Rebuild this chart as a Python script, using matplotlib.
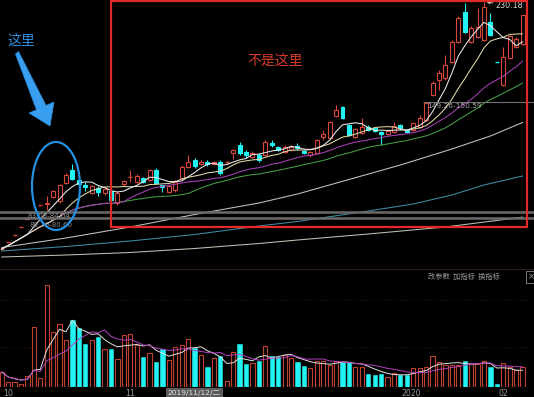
import numpy as np
import pandas as pd
import matplotlib
matplotlib.use("Agg")
import matplotlib.pyplot as plt
from matplotlib.patches import Rectangle, Ellipse, Polygon
from matplotlib.transforms import blended_transform_factory

plt.rcParams['font.family'] = ['DejaVu Sans', 'Noto Sans CJK SC']

# ---------------- data ----------------
opens = [57.28, 62.18, 67.43, 72.68, 78.28, 83.53, 88.43, 88.78, 93.68, 90.88,
         103.48, 112.58, 105.58, 102.08, 96.48, 99.98, 96.48, 97.88, 89.48, 102.43,
         107.33, 104.18, 106.98, 105.58, 112.58, 101.73, 97.18, 98.58, 106.98, 114.68,
         119.58, 116.78, 118.18, 116.78, 118.18, 118.18, 124.48, 130.08, 125.53, 121.68,
         123.08, 123.08, 131.48, 128.68, 125.18, 126.58, 129.03, 125.88, 123.08, 124.48,
         135.68, 134.98, 150.38, 156.68, 144.08, 135.68, 138.48, 142.68, 141.98, 139.18,
         137.78, 139.18, 144.08, 140.58, 140.58, 142.68, 147.58, 165.08, 175.58, 176.98,
         188.18, 202.18, 223.18, 202.18, 205.68, 203.58, 216.18, 188.18, 172.08, 190.98,
         198.68, 200.78]
highs = [57.28, 62.18, 67.43, 72.68, 78.28, 83.53, 88.43, 94.38, 98.58, 102.78,
         110.48, 116.78, 106.28, 104.18, 102.08, 101.38, 100.68, 99.98, 97.88, 105.58,
         112.58, 109.78, 107.68, 113.28, 113.98, 102.08, 102.08, 105.58, 116.08, 123.08,
         120.98, 119.58, 119.58, 118.88, 119.58, 118.88, 127.28, 132.18, 126.58, 125.88,
         124.48, 133.58, 133.58, 129.38, 130.08, 130.08, 131.48, 126.58, 125.88, 134.28,
         140.58, 146.88, 158.08, 157.38, 144.78, 141.98, 148.98, 144.08, 142.68, 139.88,
         140.58, 146.18, 144.78, 141.28, 146.18, 151.08, 160.18, 174.88, 182.58, 193.08,
         203.58, 220.38, 229.48, 213.38, 225.98, 230.18, 222.48, 188.18, 198.68, 207.08,
         205.68, 221.08]
lows = [57.28, 62.18, 67.43, 72.68, 78.28, 83.53, 88.43, 84.58, 92.98, 89.48,
        102.78, 105.58, 101.38, 97.88, 95.78, 94.38, 95.08, 90.18, 88.08, 101.38,
        104.18, 103.48, 103.48, 104.88, 102.78, 97.18, 96.48, 97.18, 106.28, 113.98,
        113.98, 116.08, 115.38, 116.08, 109.08, 117.83, 120.28, 123.08, 120.98, 120.98,
        118.18, 122.38, 128.68, 125.88, 124.48, 125.88, 126.58, 123.78, 121.68, 123.78,
        133.58, 134.28, 149.68, 148.28, 136.38, 134.98, 137.78, 139.88, 139.18, 130.08,
        137.08, 138.48, 140.58, 138.48, 139.88, 141.98, 146.88, 164.38, 168.58, 175.58,
        187.48, 201.48, 208.48, 201.48, 204.98, 202.88, 206.38, 188.18, 171.38, 190.28,
        197.98, 200.08]
closes = [57.28, 62.18, 67.43, 72.68, 78.28, 83.53, 88.43, 89.48, 97.88, 102.08,
          108.98, 106.28, 102.78, 101.03, 101.38, 97.18, 99.28, 91.58, 96.48, 104.88,
          107.68, 108.38, 104.18, 112.58, 103.48, 100.68, 101.38, 104.18, 114.68, 118.18,
          115.38, 118.18, 116.78, 118.18, 110.48, 118.53, 126.58, 124.48, 123.08, 124.48,
          119.58, 132.18, 130.08, 126.58, 128.68, 128.33, 127.98, 124.48, 125.18, 133.58,
          137.78, 146.18, 154.58, 148.98, 137.08, 141.28, 142.68, 140.58, 139.88, 138.13,
          139.88, 143.38, 141.98, 139.18, 145.48, 148.98, 159.48, 173.48, 180.48, 186.08,
          202.18, 218.98, 209.18, 211.98, 212.68, 226.68, 207.08, 188.18, 191.68, 206.38,
          204.28, 221.08]
volumes = [15, 5, 5, 3, 11, 60, 9, 102, 55, 63, 47, 67, 59, 43, 47, 50, 38, 38, 28, 52,
           53, 42, 30, 34, 25, 38, 27, 40, 42, 48, 39, 32, 20, 29, 31, 6, 35, 43, 23, 24,
           26, 41, 31, 30, 32, 29, 25, 21, 19, 26, 26, 22, 26, 25, 25, 20, 20, 13, 12, 13,
           10, 14, 12, 12, 19, 19, 20, 31, 25, 22, 22, 22, 26, 23, 23, 26, 20, 3, 24, 20,
           17, 20]

# long moving averages (need history before the window)
ma60_idx = [0, 10, 20, 30, 40, 46, 54, 62, 70, 76, 81]
ma60_val = [58.33, 64.98, 72.68, 81.43, 89.48, 95.78, 105.93, 116.08, 127.28, 136.38, 145.83]
ma120_idx = [0, 10, 20, 30, 40, 46, 57, 64, 70, 75, 81]
ma120_val = [55.88, 59.03, 62.88, 67.43, 73.38, 76.53, 83.88, 88.78, 95.08, 102.08, 108.38]
ma250_idx = [0, 10, 20, 30, 40, 46, 57, 69, 81]
ma250_val = [51.68, 53.08, 54.83, 57.63, 61.13, 63.58, 67.78, 72.68, 79.58]

tick_idx = [0, 19, 62, 77]
tick_labels = ['10', '11', '2020', '02']
cursor_idx = 26
cursor_label = '2019/11/12/二'
peak_idx = 75
peak_label = '230.18'
range_label = '149.26-150.59'
range_level = 160.18
band_levels = [83.18, 78.98]
band_labels = ['83.06-84.04', '80.10-80.60']
menu_label = '改参数  加指标  换指标'
left_note = '这里'
box_note = '不是这里'

# ---------------- figure ----------------
W, H = 534, 397
fig = plt.figure(figsize=(W / 100, H / 100), dpi=100, facecolor='black')


def fx(px):
    return px / W


def fy(py):
    return 1 - py / H


ax = fig.add_axes([0, fy(262), 1, 262 / H])
axv = fig.add_axes([0, fy(387), 1, (387 - 268) / H])
for a in (ax, axv):
    a.set_facecolor('black')
    a.set_axis_off()
xlim = (-0.264, 82.78)
ax.set_xlim(*xlim)
axv.set_xlim(*xlim)
ax.set_ylim(48.18, 231.58)
axv.set_ylim(0, 119)

RED = '#d9473b'
RED_V = '#c0402f'
CYAN = '#22f2f2'

O = np.array(opens)
Hi = np.array(highs)
Lo = np.array(lows)
C = np.array(closes)
V = np.array(volumes, dtype=float)
n = len(C)
idx = np.arange(n)
prevC = np.r_[C[0], C[:-1]]
up = (C > O) | ((C == O) & (C >= prevC))
colors = np.where(up, RED, CYAN)

# ---------------- candles ----------------
body_lo = np.minimum(O, C)
body_hi = np.maximum(O, C)
bw = 0.62
for i in range(n):
    col = colors[i]
    if body_hi[i] - body_lo[i] < 0.45:
        ax.hlines((O[i] + C[i]) / 2, i - bw / 2, i + bw / 2, color=col, lw=1.0, zorder=3)
    else:
        ax.bar(i, body_hi[i] - body_lo[i], bottom=body_lo[i], width=bw,
               facecolor='black' if up[i] else col, edgecolor=col, lw=0.8, zorder=3)
    if Hi[i] > body_hi[i]:
        ax.vlines(i, body_hi[i], Hi[i], color=col, lw=0.8, zorder=3)
    if Lo[i] < body_lo[i]:
        ax.vlines(i, Lo[i], body_lo[i], color=col, lw=0.8, zorder=3)

# ---------------- moving averages ----------------
cs = pd.Series(C)
ma5 = cs.rolling(5, min_periods=1).mean()
ma10 = cs.rolling(10, min_periods=1).mean()
ma20 = cs.rolling(20, min_periods=1).mean()
ma30 = cs.rolling(30, min_periods=1).mean()
ax.plot(ma250_idx, ma250_val, color='#b9c6b2', lw=0.75, zorder=4)
ax.plot(ma120_idx, ma120_val, color='#3c8ea6', lw=0.75, zorder=4)
ax.plot(ma60_idx, ma60_val, color='#c4c4c4', lw=0.75, zorder=4)
ax.plot(idx, ma30, color='#45a045', lw=0.75, zorder=4)
ax.plot(idx, ma20, color='#a840b8', lw=0.75, zorder=4)
ax.plot(idx, ma10, color='#e2d8aa', lw=0.75, zorder=4)
ax.plot(idx, ma5, color='#ececec', lw=0.75, zorder=4)

# grey bands and range line
for lvl in band_levels:
    ax.axhline(lvl, color='#6a6a6a', lw=1.8, zorder=5)
ax.hlines(range_level, 65.5, xlim[1], color='#707070', lw=0.8, zorder=5)
ax.text(66.2, range_level - 0.6, range_label, color='#a8a8a8', fontsize=5.4,
        va='top', ha='left', zorder=6)
fig.text(fx(27), fy(216.5), band_labels[0], color='#8a8a8a', fontsize=5.0,
         va='center', ha='left', zorder=7)
fig.text(fx(30), fy(224.5), band_labels[1], color='#8a8a8a', fontsize=5.0,
         va='center', ha='left', zorder=7)

# peak label
ax.annotate(peak_label, xy=(peak_idx + 0.4, Hi[peak_idx]), xytext=(6.5, -2.5),
            textcoords='offset points', color='#d6d6d6', fontsize=5.8,
            va='center', ha='left',
            arrowprops=dict(arrowstyle='->', color='#cfcfcf', lw=0.7,
                            shrinkA=0, shrinkB=0, mutation_scale=5), zorder=6)

# ---------------- volume panel ----------------
axv.bar(idx[up], V[up], width=0.66, facecolor='black', edgecolor=RED_V, lw=0.8, zorder=3)
axv.bar(idx[~up], V[~up], width=0.66, facecolor=CYAN, edgecolor=CYAN, lw=0.4, zorder=3)
vs = pd.Series(V)
axv.plot(idx, vs.rolling(5, min_periods=1).mean(), color='#e2e2e2', lw=0.7, zorder=4)
axv.plot(idx, vs.rolling(10, min_periods=1).mean(), color='#b040c0', lw=0.7, zorder=4)
for lvl in (40, 87):
    axv.axhline(lvl, color='#4a1c1c', lw=0.6, ls=(0, (1, 3)), zorder=1)

fig.add_artist(plt.Line2D([0, 1], [fy(268.5), fy(268.5)], color='#3a1a3a', lw=0.6))
fig.text(fx(428), fy(277), menu_label, color='#9a9a9a', fontsize=5.2,
         family=['Noto Sans CJK SC'], va='center', ha='left')
fig.add_artist(Rectangle((fx(526), fy(283)), fx(10), 12 / H, fill=False,
                         ec='#8a8a8a', lw=0.6, transform=fig.transFigure))
fig.text(fx(527.5), fy(277), '×', color='#9a9a9a', fontsize=6, va='center', ha='left')

trans = blended_transform_factory(axv.transData, fig.transFigure)
for ti, tl in zip(tick_idx, tick_labels):
    axv.text(ti + 0.2, fy(393), tl, transform=trans, color='#9a9a9a', fontsize=5.6,
             ha='left', va='center', clip_on=False)
axv.text(cursor_idx - 0.15, fy(392.5), cursor_label, transform=trans, color='#e0e0e0',
         fontsize=5.4, ha='left', va='center', clip_on=False,
         bbox=dict(boxstyle='square,pad=0.25', fc='#5c5c5c', ec='none'))

# ---------------- annotations ----------------
fig.add_artist(Rectangle((fx(111), fy(227)), fx(527 - 111), 226 / H, fill=False,
                         ec='#e42a26', lw=1.6, transform=fig.transFigure, zorder=10))
fig.add_artist(Ellipse((fx(56), fy(186)), fx(48), 88 / H, fill=False,
                       ec='#2590e2', lw=1.6, transform=fig.transFigure, zorder=10))
arrow_px = [(15.5, 54), (18.5, 51.5), (46, 105.4), (54, 102), (50, 126),
            (29, 113), (36.5, 109.8)]
fig.add_artist(Polygon([(fx(x), fy(y)) for x, y in arrow_px], closed=True,
                       fc='#3a9ef0', ec='#2a8fe0', lw=0.5,
                       transform=fig.transFigure, zorder=10))
fig.text(fx(21.5), fy(41), left_note, color='#2f8fdf', fontsize=10,
         family=['Noto Sans CJK SC'], ha='center', va='center', zorder=11)
fig.text(fx(275.5), fy(61), box_note, color='#d83a2a', fontsize=10,
         family=['Noto Sans CJK SC'], ha='center', va='center', zorder=11)

fig.savefig('out.png', dpi=100, facecolor='black')
